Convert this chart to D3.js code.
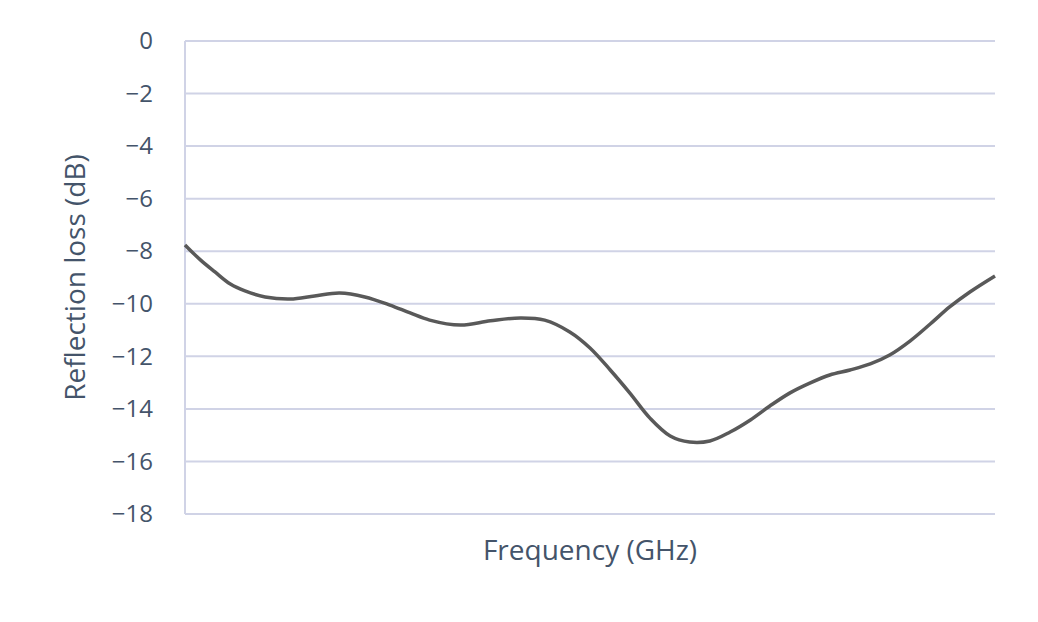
<!DOCTYPE html>
<html>
<head>
<meta charset="utf-8">
<script src="https://cdn.jsdelivr.net/npm/d3@7"></script>
<style>
  body { margin: 0; background: #fff; }
  text { font-family: "Open Sans", sans-serif; fill: #44546a; }
</style>
</head>
<body>
<svg id="chart" width="1038" height="622"></svg>
<script>
// frequency as position along axis (0-100), reflection loss in dB
const freq = [0, 1.9, 3.7, 5.6, 7.4, 9.9, 13.0, 16.0, 19.1, 22.2, 25.3, 27.8, 30.2, 34.0, 37.7, 41.4, 44.4, 47.5, 50.0, 52.5, 54.9, 57.4, 59.9, 62.3, 64.8, 67.3, 69.8, 72.2, 74.7, 77.2, 79.6, 82.1, 84.6, 87.0, 89.5, 92.0, 94.4, 96.9, 100];
const loss = [-7.76, -8.33, -8.79, -9.25, -9.51, -9.74, -9.82, -9.70, -9.59, -9.74, -10.05, -10.35, -10.62, -10.81, -10.65, -10.54, -10.62, -11.07, -11.68, -12.52, -13.39, -14.35, -15.03, -15.26, -15.22, -14.88, -14.42, -13.89, -13.39, -13.01, -12.71, -12.52, -12.29, -11.95, -11.42, -10.77, -10.12, -9.55, -8.94];
const yTicks = [0, -2, -4, -6, -8, -10, -12, -14, -16, -18];

const svg = d3.select('#chart');
const margin = { left: 185, right: 43, top: 41, bottom: 108 };
const width = 1038 - margin.left - margin.right;
const height = 622 - margin.top - margin.bottom;

const g = svg.append('g')
    .attr('transform', 'translate(' + margin.left + ',' + margin.top + ')');

const x = d3.scaleLinear().domain([0, 100]).range([0, width]);
const y = d3.scaleLinear().domain([-18, 0]).range([height, 0]);

g.selectAll('.grid')
    .data(yTicks)
    .enter().append('line')
    .attr('x1', 0).attr('x2', width)
    .attr('y1', d => y(d)).attr('y2', d => y(d))
    .attr('stroke', '#d0d3e6')
    .attr('stroke-width', 2);

g.append('line')
    .attr('x1', 0).attr('x2', 0)
    .attr('y1', 0).attr('y2', height)
    .attr('stroke', '#d0d3e6')
    .attr('stroke-width', 2);

const yAxis = g.append('g')
    .call(d3.axisLeft(y).tickValues(yTicks).tickSize(0).tickPadding(32));
yAxis.select('.domain').remove();
yAxis.selectAll('text')
    .style('font-size', '24px')
    .style('fill', '#44546a')
    .style('font-family', '"Open Sans", sans-serif');

const line = d3.line()
    .x((d, i) => x(freq[i]))
    .y(d => y(d))
    .curve(d3.curveCatmullRom);

g.append('path')
    .datum(loss)
    .attr('fill', 'none')
    .attr('stroke', '#595959')
    .attr('stroke-width', 3.5)
    .attr('d', line);

svg.append('text')
    .attr('x', margin.left + width / 2)
    .attr('y', 560)
    .style('text-anchor', 'middle')
    .style('font-size', '28px')
    .text('Frequency (GHz)');

svg.append('text')
    .attr('transform', 'rotate(-90)')
    .attr('x', -(margin.top + height / 2))
    .attr('y', 85)
    .style('text-anchor', 'middle')
    .style('font-size', '28px')
    .text('Reflection loss (dB)');
</script>
</body>
</html>
